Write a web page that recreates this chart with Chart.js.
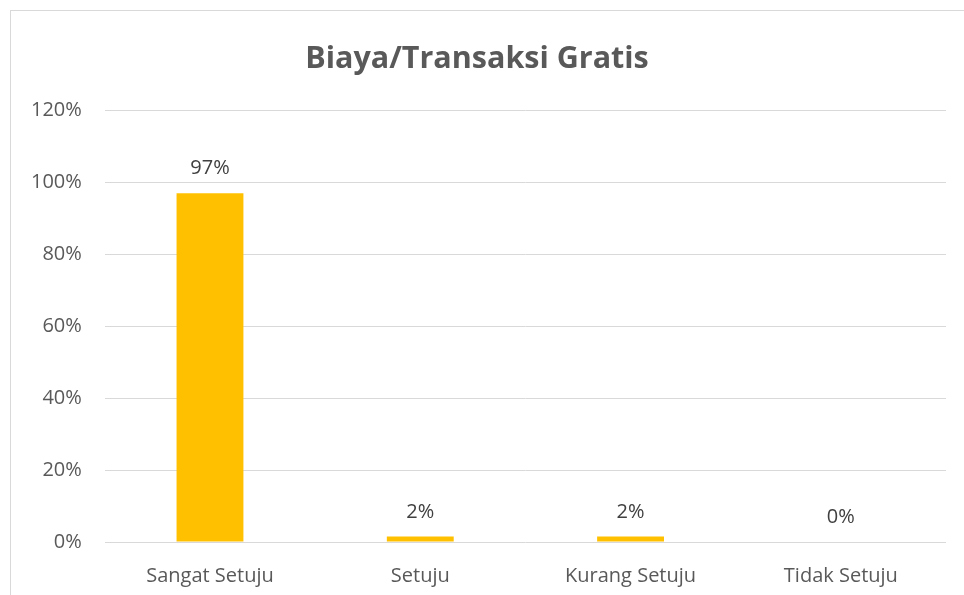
<!DOCTYPE html>
<html><head><meta charset="utf-8">
<script src="https://cdn.jsdelivr.net/npm/chart.js@4"></script>
<style>
html,body{margin:0;padding:0;background:#fff;overflow:hidden;}
#wrap{position:relative;width:964px;height:595px;}
#frame{position:absolute;left:10px;top:10px;width:960px;height:600px;border:1px solid #d9d9d9;box-sizing:border-box;}
canvas{position:absolute;left:0;top:0;}
</style></head>
<body><div id="wrap"><div id="frame"></div><canvas id="c" width="964" height="595"></canvas></div>
<script>
const categories = ["Sangat Setuju", "Setuju", "Kurang Setuju", "Tidak Setuju"];
const values = [0.97, 0.015, 0.015, 0];
const valueLabels = ["97%", "2%", "2%", "0%"];
const titleText = "Biaya/Transaksi Gratis";

const labelPlugin = {
  id: 'valLabels',
  afterDatasetsDraw(chart) {
    const ctx = chart.ctx;
    const meta = chart.getDatasetMeta(0);
    ctx.save();
    ctx.font = '20px "Open Sans", sans-serif';
    ctx.fillStyle = '#404040';
    ctx.textAlign = 'center';
    ctx.textBaseline = 'alphabetic';
    meta.data.forEach((bar, i) => {
      ctx.fillText(valueLabels[i], bar.x, bar.y - 19);
    });
    ctx.restore();
  }
};

new Chart(document.getElementById('c'), {
  type: 'bar',
  data: { labels: categories, datasets: [{ data: values, backgroundColor: '#FFC000', borderWidth: 0, categoryPercentage: 1, barPercentage: 0.318 }] },
  options: {
    responsive: false, animation: false, devicePixelRatio: 1,
    layout: { padding: { left: 8, right: 18, top: 0, bottom: -15 } },
    plugins: {
      legend: { display: false }, tooltip: { enabled: false },
      title: { display: true, text: titleText, color: '#595959', font: { family: '"Open Sans", sans-serif', size: 30.5, weight: 'bold' }, padding: { top: 41, bottom: 33 } }
    },
    scales: {
      x: { grid: { display: false, drawTicks: false }, border: { display: false }, ticks: { color: '#595959', font: { family: '"Open Sans", sans-serif', size: 20 }, padding: 22 } },
      y: { min: 0, max: 1.2, grid: { color: '#d9d9d9', drawTicks: false }, border: { display: false },
           ticks: { stepSize: 0.2, color: '#595959', padding: 23, font: { family: '"Open Sans", sans-serif', size: 20 }, callback: v => Math.round(v * 100) + '%' } }
    }
  },
  plugins: [labelPlugin]
});
</script></body></html>
